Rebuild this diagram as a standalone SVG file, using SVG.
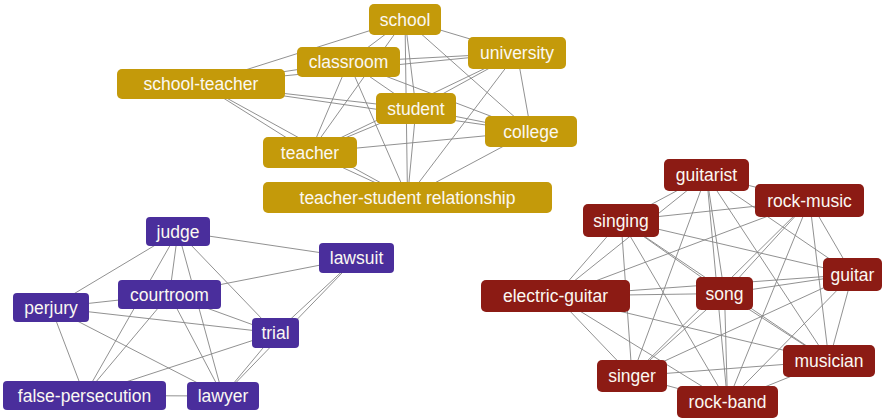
<svg xmlns="http://www.w3.org/2000/svg" width="885" height="420" viewBox="0 0 885 420">
<style>
.bg{fill:#ffffff}
.e line{stroke:#858585;stroke-width:0.9}
.gold rect{fill:#C49A0A}
.purp rect{fill:#4A2E9C}
.red rect{fill:#8C1B14}
text{font-family:"Liberation Sans",Arial,sans-serif;font-size:17.5px;fill:#FBF8F2;text-anchor:middle}
</style>
<rect class="bg" x="0" y="0" width="885" height="420"/>
<g id="connectors" class="e">
<!-- gold: S(405,19.5) C(348.5,62) ST(201,84) U(517,53) Stu(416,108.5) Co(531,131.5) T(310,152.5) R(407.5,197.5) -->
<line x1="405" y1="19.5" x2="348.5" y2="62"/>
<line x1="405" y1="19.5" x2="201" y2="84"/>
<line x1="405" y1="19.5" x2="517" y2="53"/>
<line x1="405" y1="19.5" x2="416" y2="108.5"/>
<line x1="405" y1="19.5" x2="531" y2="131.5"/>
<line x1="405" y1="19.5" x2="310" y2="152.5"/>
<line x1="405" y1="19.5" x2="407.5" y2="197.5"/>
<line x1="348.5" y1="62" x2="201" y2="84"/>
<line x1="348.5" y1="62" x2="517" y2="53"/>
<line x1="348.5" y1="62" x2="416" y2="108.5"/>
<line x1="348.5" y1="62" x2="531" y2="131.5"/>
<line x1="348.5" y1="62" x2="310" y2="152.5"/>
<line x1="348.5" y1="62" x2="407.5" y2="197.5"/>
<line x1="201" y1="84" x2="517" y2="53"/>
<line x1="201" y1="84" x2="416" y2="108.5"/>
<line x1="201" y1="84" x2="531" y2="131.5"/>
<line x1="201" y1="84" x2="310" y2="152.5"/>
<line x1="201" y1="84" x2="407.5" y2="197.5"/>
<line x1="517" y1="53" x2="416" y2="108.5"/>
<line x1="517" y1="53" x2="531" y2="131.5"/>
<line x1="517" y1="53" x2="310" y2="152.5"/>
<line x1="517" y1="53" x2="407.5" y2="197.5"/>
<line x1="416" y1="108.5" x2="531" y2="131.5"/>
<line x1="416" y1="108.5" x2="310" y2="152.5"/>
<line x1="416" y1="108.5" x2="407.5" y2="197.5"/>
<line x1="531" y1="131.5" x2="310" y2="152.5"/>
<line x1="531" y1="131.5" x2="407.5" y2="197.5"/>
<line x1="310" y1="152.5" x2="407.5" y2="197.5"/>
<!-- purple: J(178,231.5) CR(169.5,294.5) P(51,307.5) FP(84.5,395.5) L(223,396) Tr(275.5,333) LS(356.5,258) -->
<line x1="178" y1="231.5" x2="169.5" y2="294.5"/>
<line x1="178" y1="231.5" x2="51" y2="307.5"/>
<line x1="178" y1="231.5" x2="84.5" y2="395.5"/>
<line x1="178" y1="231.5" x2="223" y2="396"/>
<line x1="178" y1="231.5" x2="275.5" y2="333"/>
<line x1="178" y1="231.5" x2="356.5" y2="258"/>
<line x1="169.5" y1="294.5" x2="51" y2="307.5"/>
<line x1="169.5" y1="294.5" x2="84.5" y2="395.5"/>
<line x1="169.5" y1="294.5" x2="223" y2="396"/>
<line x1="169.5" y1="294.5" x2="275.5" y2="333"/>
<line x1="169.5" y1="294.5" x2="356.5" y2="258"/>
<line x1="51" y1="307.5" x2="84.5" y2="395.5"/>
<line x1="51" y1="307.5" x2="223" y2="396"/>
<line x1="51" y1="307.5" x2="275.5" y2="333"/>
<line x1="84.5" y1="395.5" x2="223" y2="396"/>
<line x1="84.5" y1="395.5" x2="275.5" y2="333"/>
<line x1="223" y1="396" x2="275.5" y2="333"/>
<line x1="223" y1="396" x2="356.5" y2="258"/>
<line x1="275.5" y1="333" x2="356.5" y2="258"/>
<!-- red: GT(706.5,175) RM(809.5,200.5) SG(621,220.5) G(852.5,274.5) SO(724.5,293.5) EG(555.5,296) MU(829,361) SI(632,376) RB(727.5,402) -->
<line x1="706.5" y1="175" x2="809.5" y2="200.5"/>
<line x1="706.5" y1="175" x2="621" y2="220.5"/>
<line x1="706.5" y1="175" x2="852.5" y2="274.5"/>
<line x1="706.5" y1="175" x2="724.5" y2="293.5"/>
<line x1="706.5" y1="175" x2="555.5" y2="296"/>
<line x1="706.5" y1="175" x2="829" y2="361"/>
<line x1="706.5" y1="175" x2="632" y2="376"/>
<line x1="706.5" y1="175" x2="727.5" y2="402"/>
<line x1="809.5" y1="200.5" x2="621" y2="220.5"/>
<line x1="809.5" y1="200.5" x2="852.5" y2="274.5"/>
<line x1="809.5" y1="200.5" x2="724.5" y2="293.5"/>
<line x1="809.5" y1="200.5" x2="555.5" y2="296"/>
<line x1="809.5" y1="200.5" x2="829" y2="361"/>
<line x1="809.5" y1="200.5" x2="632" y2="376"/>
<line x1="809.5" y1="200.5" x2="727.5" y2="402"/>
<line x1="621" y1="220.5" x2="852.5" y2="274.5"/>
<line x1="621" y1="220.5" x2="724.5" y2="293.5"/>
<line x1="621" y1="220.5" x2="555.5" y2="296"/>
<line x1="621" y1="220.5" x2="829" y2="361"/>
<line x1="621" y1="220.5" x2="632" y2="376"/>
<line x1="621" y1="220.5" x2="727.5" y2="402"/>
<line x1="852.5" y1="274.5" x2="724.5" y2="293.5"/>
<line x1="852.5" y1="274.5" x2="555.5" y2="296"/>
<line x1="852.5" y1="274.5" x2="829" y2="361"/>
<line x1="852.5" y1="274.5" x2="632" y2="376"/>
<line x1="852.5" y1="274.5" x2="727.5" y2="402"/>
<line x1="724.5" y1="293.5" x2="555.5" y2="296"/>
<line x1="724.5" y1="293.5" x2="829" y2="361"/>
<line x1="724.5" y1="293.5" x2="632" y2="376"/>
<line x1="724.5" y1="293.5" x2="727.5" y2="402"/>
<line x1="555.5" y1="296" x2="829" y2="361"/>
<line x1="555.5" y1="296" x2="632" y2="376"/>
<line x1="555.5" y1="296" x2="727.5" y2="402"/>
<line x1="829" y1="361" x2="632" y2="376"/>
<line x1="829" y1="361" x2="727.5" y2="402"/>
<line x1="632" y1="376" x2="727.5" y2="402"/>
</g>
<g id="n-school" class="gold"><rect x="369" y="4" width="72" height="31" rx="5"/><text x="405" y="26">school</text></g>
<g id="n-classroom" class="gold"><rect x="297" y="47" width="103" height="30" rx="5"/><text x="348.5" y="68">classroom</text></g>
<g id="n-school-teacher" class="gold"><rect x="117" y="69" width="168" height="30" rx="5"/><text x="201" y="90">school-teacher</text></g>
<g id="n-university" class="gold"><rect x="468" y="37" width="98" height="32" rx="5"/><text x="517" y="59">university</text></g>
<g id="n-student" class="gold"><rect x="376" y="93" width="80" height="31" rx="5"/><text x="416" y="114.5">student</text></g>
<g id="n-college" class="gold"><rect x="485" y="116" width="92" height="31" rx="5"/><text x="531" y="137.5">college</text></g>
<g id="n-teacher" class="gold"><rect x="263" y="137" width="94" height="31" rx="5"/><text x="310" y="158.5">teacher</text></g>
<g id="n-tsr" class="gold"><rect x="263" y="182" width="289" height="31" rx="5"/><text x="407.5" y="203.5">teacher-student relationship</text></g>
<g id="n-judge" class="purp"><rect x="146" y="217" width="64" height="29" rx="4"/><text x="178" y="237.5">judge</text></g>
<g id="n-courtroom" class="purp"><rect x="118" y="280" width="103" height="29" rx="4"/><text x="169.5" y="300.5">courtroom</text></g>
<g id="n-perjury" class="purp"><rect x="13" y="293" width="76" height="29" rx="4"/><text x="51" y="313.5">perjury</text></g>
<g id="n-false-persecution" class="purp"><rect x="3" y="381" width="163" height="29" rx="4"/><text x="84.5" y="401.5">false-persecution</text></g>
<g id="n-lawyer" class="purp"><rect x="187" y="382" width="72" height="28" rx="4"/><text x="223" y="402">lawyer</text></g>
<g id="n-trial" class="purp"><rect x="252" y="318" width="47" height="30" rx="4"/><text x="275.5" y="339">trial</text></g>
<g id="n-lawsuit" class="purp"><rect x="319" y="243" width="75" height="30" rx="4"/><text x="356.5" y="264">lawsuit</text></g>
<g id="n-guitarist" class="red"><rect x="664" y="159" width="85" height="32" rx="5"/><text x="706.5" y="181">guitarist</text></g>
<g id="n-rock-music" class="red"><rect x="755" y="184" width="109" height="33" rx="5"/><text x="809.5" y="206.5">rock-music</text></g>
<g id="n-singing" class="red"><rect x="583" y="204" width="76" height="33" rx="5"/><text x="621" y="226.5">singing</text></g>
<g id="n-guitar" class="red"><rect x="823" y="258" width="59" height="33" rx="5"/><text x="852.5" y="280.5">guitar</text></g>
<g id="n-song" class="red"><rect x="696" y="277" width="57" height="33" rx="5"/><text x="724.5" y="299.5">song</text></g>
<g id="n-electric-guitar" class="red"><rect x="481" y="280" width="149" height="32" rx="5"/><text x="555.5" y="302">electric-guitar</text></g>
<g id="n-musician" class="red"><rect x="783" y="345" width="92" height="32" rx="5"/><text x="829" y="367">musician</text></g>
<g id="n-singer" class="red"><rect x="597" y="360" width="70" height="32" rx="5"/><text x="632" y="382">singer</text></g>
<g id="n-rock-band" class="red"><rect x="677" y="386" width="101" height="32" rx="5"/><text x="727.5" y="408">rock-band</text></g>
</svg>
